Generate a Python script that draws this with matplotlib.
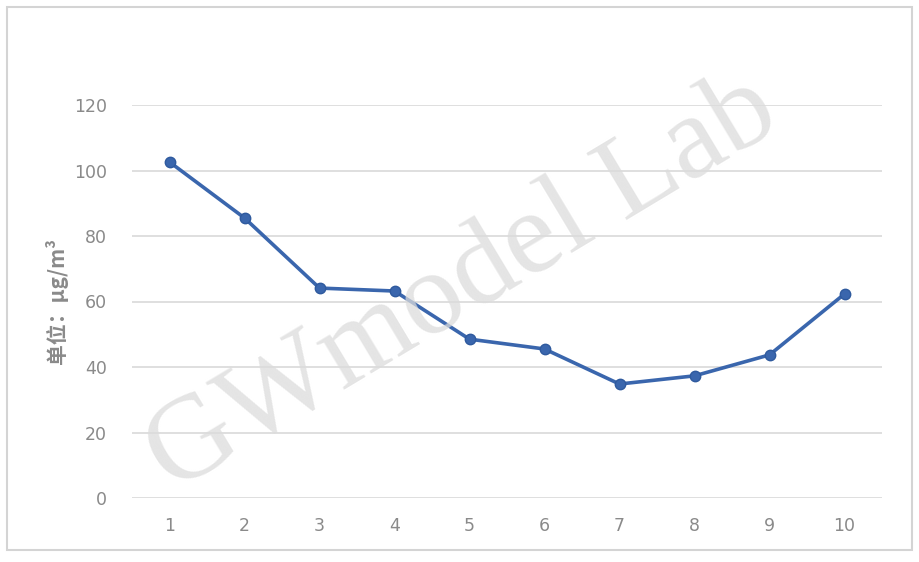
import matplotlib
matplotlib.use('Agg')
import matplotlib.pyplot as plt
import matplotlib.patches as mpatches

plt.rcParams['font.family'] = ['Noto Sans CJK SC', 'DejaVu Sans']

## DATA
x_vals = [1, 2, 3, 4, 5, 6, 7, 8, 9, 10]
y_vals = [102.6, 85.5, 64.1, 63.2, 48.5, 45.5, 34.8, 37.3, 43.7, 62.3]
y_ticks = [0, 20, 40, 60, 80, 100, 120]
y_label = '单位：μg/m³'
watermark = 'GWmodel Lab'

W, H = 919, 562
fig = plt.figure(figsize=(W / 100, H / 100), dpi=100)
fig.patch.set_facecolor('white')

# outer light frame
frame = mpatches.Rectangle((7 / W, 1 - 550 / H), (912 - 7) / W, (550 - 7) / H,
                           transform=fig.transFigure, fill=False,
                           edgecolor='#d4d4d4', linewidth=1.5)
fig.patches.append(frame)

ax = fig.add_axes([132 / W, 1 - 498 / H, (882 - 132) / W, (498 - 105) / H])
ax.set_xlim(0.5, 10.5)
ax.set_ylim(0, 120)
ax.set_yticks(y_ticks)
ax.set_xticks(x_vals)
ax.yaxis.grid(True, color='#d9d9d9', linewidth=1.2)
ax.set_axisbelow(True)
for s in ax.spines.values():
    s.set_visible(False)
ax.tick_params(length=0, colors='#8a8a8a', labelsize=12.5)
ax.tick_params(axis='y', pad=18)
ax.tick_params(axis='x', pad=14)
for lab in ax.get_xticklabels() + ax.get_yticklabels():
    lab.set_fontfamily(['DejaVu Sans'])
    lab.set_color('#8a8a8a')

ax.plot(x_vals, y_vals, color='#3a66ad', linewidth=2.6, marker='o',
        markersize=7.5, markerfacecolor='#3a66ad', markeredgecolor='#2f5a9e',
        clip_on=False, zorder=3)

ax.set_ylabel(y_label, color='#8a8a8a', fontsize=15, labelpad=4,
              fontweight='bold')

# watermark
fig.text(463 / W, 1 - 285 / H, watermark, fontsize=86, family='Liberation Serif',
         color='#dcdcdc', alpha=0.75, rotation=31, ha='center', va='center',
         rotation_mode='anchor', zorder=5)

fig.savefig('out.png', dpi=100, facecolor='white')
